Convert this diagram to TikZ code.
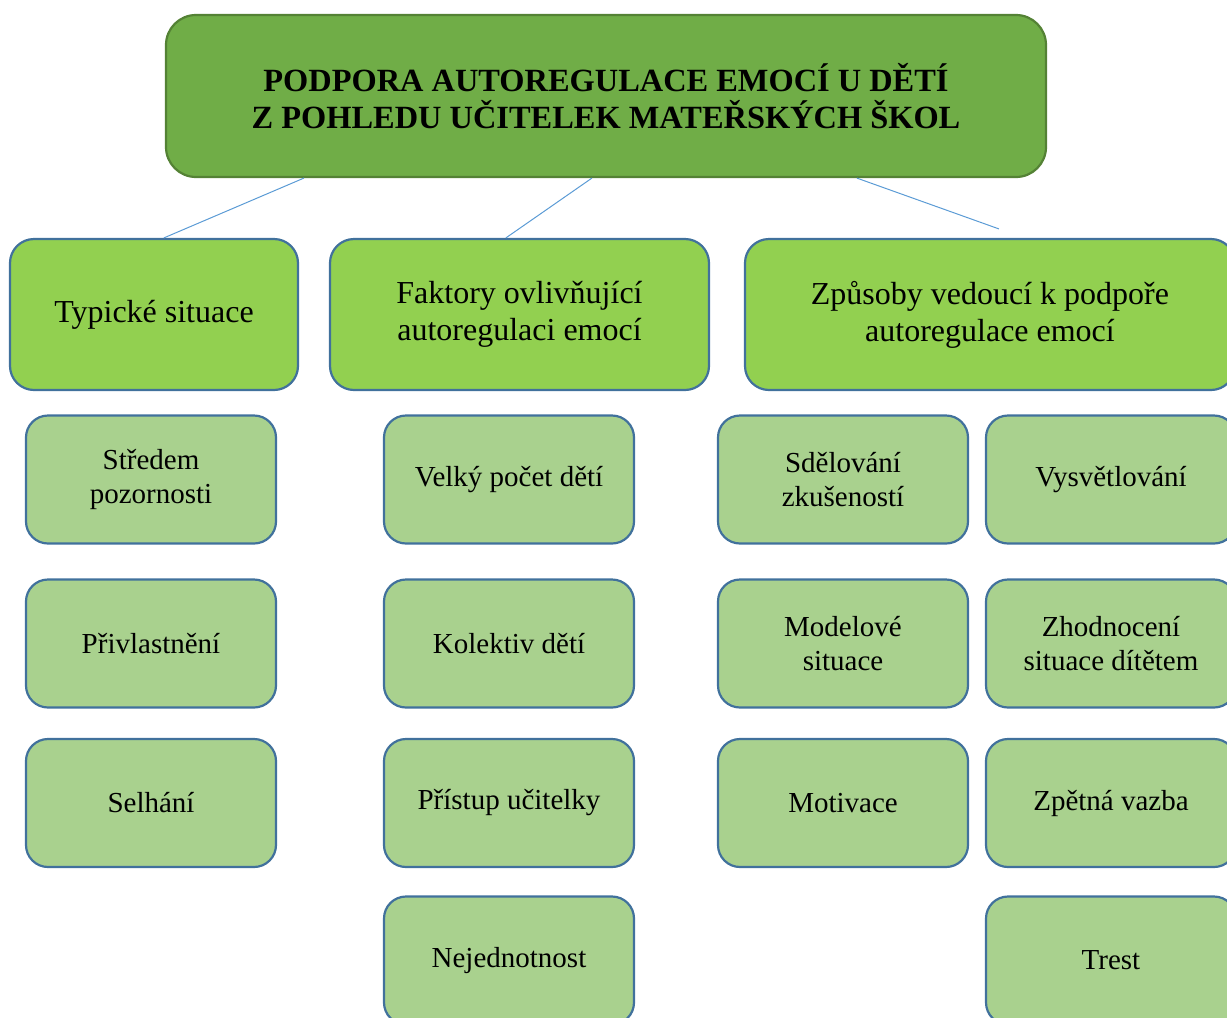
\documentclass[tikz,border=0pt]{standalone}
\usepackage{fontspec}
\setmainfont{Liberation Serif}
\usepackage{tikz}
\definecolor{titlefill}{HTML}{70AD47}
\definecolor{titleline}{HTML}{548235}
\definecolor{headfill}{HTML}{92D050}
\definecolor{itemfill}{HTML}{A9D18E}
\definecolor{boxline}{HTML}{41719C}
\definecolor{linkline}{HTML}{5B9BD5}
\tikzset{
   titlebox/.style={rectangle, rounded corners=15pt, fill=titlefill, draw=titleline, line width=1.1pt,
      minimum width=440pt, minimum height=81pt, align=center, font=\fontsize{16.2}{18.5}\selectfont\bfseries},
   headbox/.style={rectangle, rounded corners=12pt, fill=headfill, draw=boxline, line width=1.1pt,
      minimum height=75.5pt, align=center, font=\fontsize{16}{18.5}\selectfont},
   itembox/.style={rectangle, rounded corners=11pt, fill=itemfill, draw=boxline, line width=1.1pt,
      minimum width=125pt, minimum height=64pt, align=center, font=\fontsize{14.5}{17}\selectfont},
   link/.style={draw=linkline, line width=0.5pt}
}
\begin{document}
\begin{tikzpicture}[x=0.5pt, y=-0.5pt]
   \useasboundingbox (0,0) rectangle (1227,1018);
   \clip (0,0) rectangle (1227,1018);

   \node[titlebox] (title) at (606,96) {PODPORA AUTOREGULACE EMOCÍ U DĚTÍ\\Z POHLEDU UČITELEK MATEŘSKÝCH ŠKOL};

   \node[headbox, minimum width=144pt] (typ) at (154,314.5) {Typické situace};
   \node[headbox, minimum width=189.5pt] (fak) at (519.5,314.5) {Faktory ovlivňující\\autoregulaci emocí};
   \node[headbox, minimum width=245pt] (zpu) at (990,314.5) {Způsoby vedoucí k podpoře\\autoregulace emocí};

   \node[itembox] (typA) at (151,479.5) {Středem\\pozornosti};
   \node[itembox] (typB) at (151,643.5) {Přivlastnění};
   \node[itembox] (typC) at (151,803) {Selhání};

   \node[itembox] (fakA) at (509,479.5) {Velký počet dětí};
   \node[itembox] (fakB) at (509,643.5) {Kolektiv dětí};
   \node[itembox] (fakC) at (509,803) {Přístup učitelky};
   \node[itembox] (fakD) at (509,960.5) {Nejednotnost};

   \node[itembox] (zpuA) at (843,479.5) {Sdělování\\zkušeností};
   \node[itembox] (zpuB) at (843,643.5) {Modelové\\situace};
   \node[itembox] (zpuC) at (843,803) {Motivace};

   \node[itembox] (zpuD) at (1111,479.5) {Vysvětlování};
   \node[itembox] (zpuE) at (1111,643.5) {Zhodnocení\\situace dítětem};
   \node[itembox] (zpuF) at (1111,803) {Zpětná vazba};
   \node[itembox] (zpuG) at (1111,960.5) {Trest};

   \coordinate (zpuend) at ([xshift=127.5pt, yshift=4.5pt]zpu.north west);
   \draw[link] ([xshift=69.5pt]title.south west) -- ([xshift=77.5pt]typ.north west);
   \draw[link] ([xshift=213.5pt]title.south west) -- ([xshift=88.5pt]fak.north west);
   \draw[link] ([xshift=346pt]title.south west) -- (zpuend);
\end{tikzpicture}
\end{document}
